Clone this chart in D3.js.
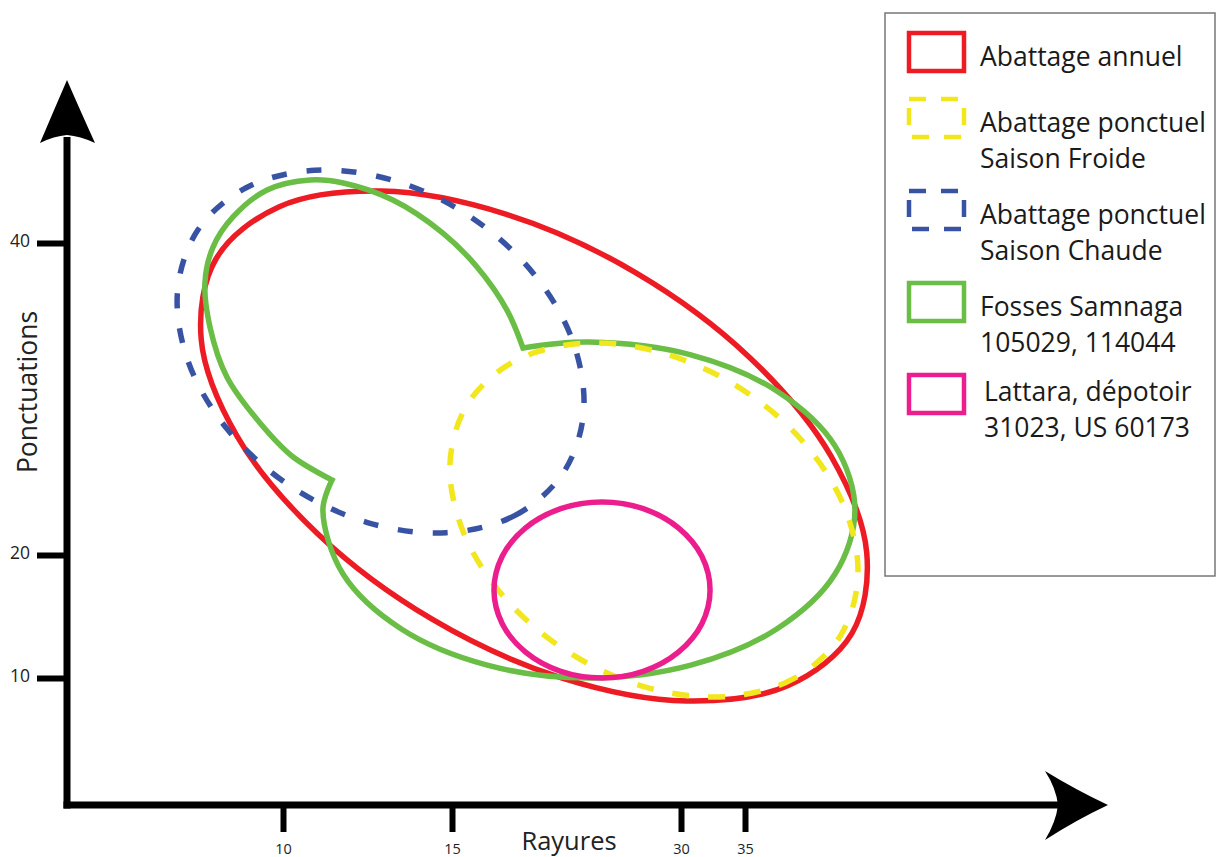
<!DOCTYPE html>
<html><head><meta charset="utf-8">
<script src="https://cdn.jsdelivr.net/npm/d3@7"></script>
<style>body{margin:0;background:#fff}svg{display:block}</style>
</head><body><svg id="c" width="1217" height="857"></svg>
<script>
// ---- data ----
const xTicks = [10, 15, 30, 35];
const yTicks = [10, 20, 40];
const xTitle = "Rayures";
const yTitle = "Ponctuations";

// outlines, in data units [rayures, ponctuations]
const abattageAnnuel = [[43.35,13.63],[38.41,9.41],[30.45,8.14],[22.17,10.02],[14.41,14.78],[11.04,21.33],[8.64,27.62],[7.58,33.83],[8.02,38.99],[9.89,42.33],[12.91,43.33],[18.57,41.84],[27.05,38.09],[35.38,32.65],[41.71,26.35],[44.51,20.15]];
const ponctuelFroide = [[42.44,13.41],[38.84,9.97],[33.58,8.49],[27.86,9.20],[22.78,11.98],[18.52,16.42],[15.75,21.45],[14.94,25.85],[16.03,29.69],[19.05,32.40],[23.46,33.56],[28.60,33.00],[34.40,30.81],[39.48,27.31],[42.78,23.04],[43.82,18.28]];
const ponctuelChaude = [[22.28,25.26],[19.13,22.54],[14.83,21.43],[12.50,22.08],[10.23,24.40],[8.36,28.04],[7.19,32.43],[6.88,36.93],[7.48,40.83],[8.91,43.54],[10.94,44.66],[13.27,44.01],[16.19,41.69],[20.33,38.05],[22.93,33.66],[23.62,29.16]];
const samnagaLobeA = [[19.65,33.27],[18.60,35.70],[16.64,38.46],[14.73,40.64],[13.25,42.76],[11.78,43.85],[10.80,44.04],[9.53,43.40],[8.52,41.67],[7.93,39.74],[7.69,37.44],[7.84,34.61],[8.34,31.41],[9.32,28.46],[10.30,26.28],[11.45,24.81]];
const samnagaLobeB = [[11.45,24.81],[11.18,22.88],[11.78,18.43],[13.49,14.00],[17.31,11.04],[23.97,10.00],[30.77,11.04],[37.51,14.00],[42.02,18.43],[43.59,22.88],[42.02,27.01],[37.51,30.50],[30.77,32.83],[23.97,33.65],[19.65,33.27]];
const lattara = [[32.27,17.15],[31.63,14.41],[29.83,12.10],[27.53,10.54],[24.83,10.00],[22.12,10.54],[19.82,12.10],[18.29,14.41],[17.75,17.15],[18.29,19.89],[19.82,21.74],[22.12,22.97],[24.83,23.40],[27.53,22.97],[29.83,21.74],[31.63,19.89]];

const legendLabels = [["Abattage annuel"],["Abattage ponctuel","Saison Froide"],["Abattage ponctuel","Saison Chaude"],["Fosses Samnaga","105029, 114044"],["Lattara, dépotoir","31023, US 60173"]];
const legendColors = ["#ed1c24","#f2e61c","#3953a4","#6abd45","#ec1e8e"];
const legendDashed = [false,true,true,false,false];

// ---- drawing ----
const FONT = "'Open Sans', 'Noto Sans', sans-serif";
const svg = d3.select("#c");
const x = d3.scaleLinear().domain(xTicks).range([283, 452, 681, 745]);
const y = d3.scaleLinear().domain(yTicks).range([678, 555, 243]);

const closed = d3.line().x(d => x(d[0])).y(d => y(d[1])).curve(d3.curveCatmullRomClosed.alpha(0.5));
const open = d3.line().x(d => x(d[0])).y(d => y(d[1])).curve(d3.curveCatmullRom.alpha(0.5));

const plot = svg.append("g").attr("fill","none").attr("stroke-width",5.5);
plot.append("path").attr("d", closed(abattageAnnuel)).attr("stroke", legendColors[0]);
const pB = open(samnagaLobeB).replace(/^M[^C]*/, "");
plot.append("path").attr("d", open(samnagaLobeA) + pB + "Z").attr("stroke", legendColors[3]).attr("stroke-linejoin","miter").attr("stroke-miterlimit",20);
plot.append("path").attr("d", closed(ponctuelFroide)).attr("stroke", legendColors[1]).attr("stroke-dasharray","17,19");
plot.append("path").attr("d", closed(ponctuelChaude)).attr("stroke", legendColors[2]).attr("stroke-dasharray","15,20");
plot.append("path").attr("d", closed(lattara)).attr("stroke", legendColors[4]);

// axes
const gx = svg.append("g").attr("transform","translate(0,808)")
  .call(d3.axisBottom(x).tickValues(xTicks).tickSize(24).tickPadding(12).tickSizeOuter(0));
gx.select(".domain").remove();
gx.selectAll(".tick line").attr("stroke","#000").attr("stroke-width",6);
gx.selectAll(".tick text").attr("font-family",FONT).attr("font-size",14.5).attr("fill","#222");

const gy = svg.append("g").attr("transform","translate(67,0)")
  .call(d3.axisLeft(y).tickValues(yTicks).tickSize(30).tickPadding(7).tickSizeOuter(0));
gy.select(".domain").remove();
gy.selectAll(".tick line").attr("stroke","#000").attr("stroke-width",6);
gy.selectAll(".tick text").attr("font-family",FONT).attr("font-size",17.5).attr("fill","#222").attr("dy","0.2em");

const axes = svg.append("g");
axes.append("line").attr("x1",63.5).attr("x2",1062).attr("y1",805).attr("y2",805).attr("stroke","#000").attr("stroke-width",7);
axes.append("line").attr("x1",67).attr("x2",67).attr("y1",808.5).attr("y2",137).attr("stroke","#000").attr("stroke-width",7);
axes.append("path").attr("d","M67,80 Q80,110 95,143 Q80,136 67,135 Q54,136 40,143 Q54,110 67,80Z").attr("fill","#000");
axes.append("path").attr("d","M1108,805 Q1076,790 1045,771 Q1056,788 1058,805 Q1056,822 1045,840 Q1076,820 1108,805Z").attr("fill","#000");

svg.append("text").attr("x",569).attr("y",850).attr("text-anchor","middle").attr("font-family",FONT).attr("font-size",25.5).attr("fill","#222").text(xTitle);
svg.append("text").attr("transform","translate(37,392) rotate(-90)").attr("text-anchor","middle").attr("font-family",FONT).attr("font-size",26.5).attr("fill","#222").text(yTitle);

// legend
const lg = svg.append("g");
lg.append("rect").attr("x",885).attr("y",13).attr("width",330).attr("height",563).attr("fill","#fff").attr("stroke","#777").attr("stroke-width",1.5);
let legendTop = 33;
legendLabels.forEach((lines, i) => {
  lg.append("rect").attr("x",909).attr("y",legendTop).attr("width",55).attr("height",38)
    .attr("fill","none").attr("stroke",legendColors[i]).attr("stroke-width",4.5)
    .attr("stroke-dasharray", legendDashed[i] ? "17,15" : null);
  lines.forEach((t, j) => {
    lg.append("text").attr("x", i === 4 ? 984 : 980).attr("y", legendTop + (i === 4 ? 26 : 33) + j*36)
      .attr("font-family",FONT).attr("font-size",26.5).attr("fill","#1a1a1a").text(t);
  });
  legendTop += lines.length === 1 ? 66 : 92;
});
</script></body></html>
